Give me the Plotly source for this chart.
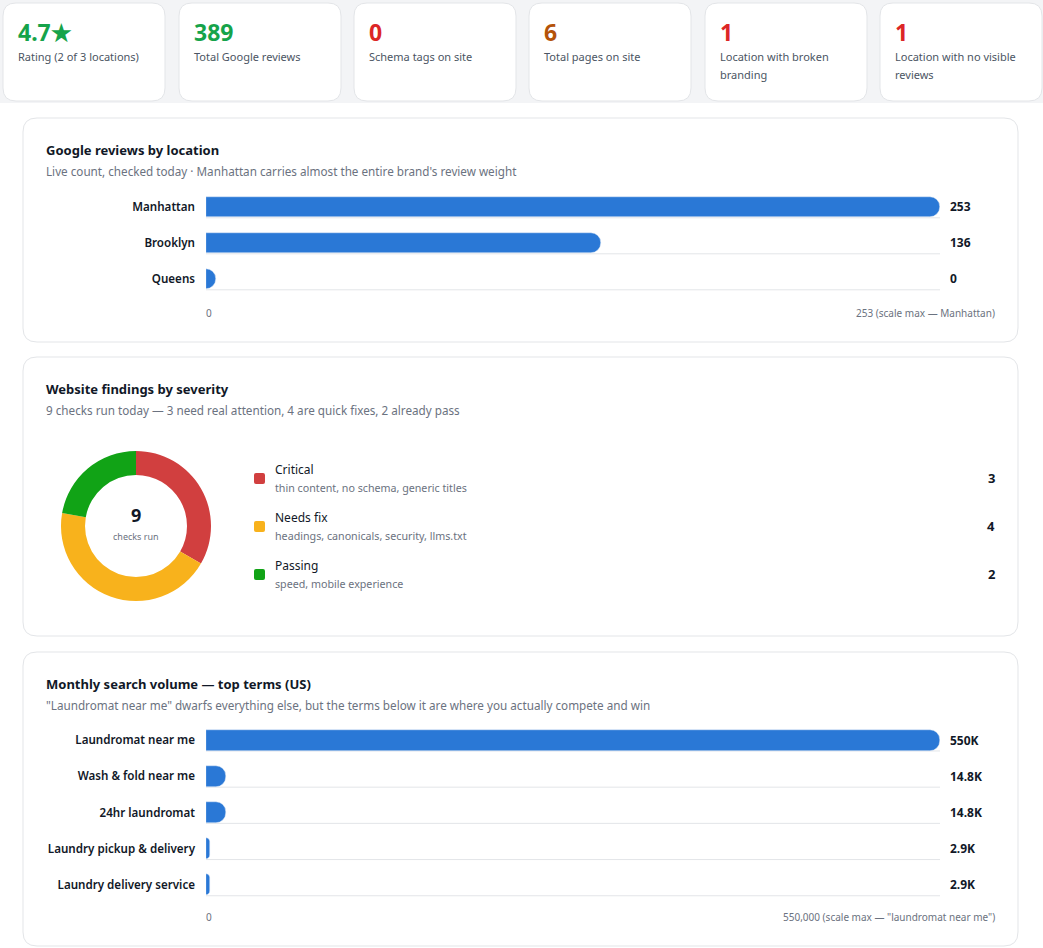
import plotly.graph_objects as go

W, H = 1043, 948
FONT = "Segoe UI, Noto Sans, sans-serif"
INK = "#111827"
MUTED = "#6b7280"
BLUE = "#2a78d6"
EDGE = "#e3e5e8"

# KPI strip
kpi_values = ["4.7★", "389", "0", "6", "1", "1"]
kpi_labels = ["Rating (2 of 3 locations)", "Total Google reviews", "Schema tags on site",
              "Total pages on site", "Location with broken<br>branding",
              "Location with no visible<br>reviews"]
kpi_colors = ["#16a34a", "#16a34a", "#dc2626", "#b45309", "#dc2626", "#dc2626"]

# reviews by location
locations = ["Manhattan", "Brooklyn", "Queens"]
reviews = [253, 136, 0]

# findings by severity
severity = ["Critical", "Needs fix", "Passing"]
severity_counts = [3, 4, 2]
severity_notes = ["thin content, no schema, generic titles",
                  "headings, canonicals, security, llms.txt",
                  "speed, mobile experience"]
severity_colors = ["#d13f3f", "#f8b21c", "#11a316"]

# search volume
terms = ["Laundromat near me", "Wash & fold near me", "24hr laundromat",
         "Laundry pickup & delivery", "Laundry delivery service"]
volumes = [550000, 14800, 14800, 2900, 2900]
volume_labels = ["550K", "14.8K", "14.8K", "2.9K", "2.9K"]


def px(x):
    return x / W


def py(y):
    return 1 - y / H


def rounded(x0, y0, x1, y1, r):
    # rounded rectangle path in paper coords, from pixel box
    p = lambda x, y: f"{px(x):.5f},{py(y):.5f}"
    return (f"M {p(x0 + r, y0)} L {p(x1 - r, y0)} Q {p(x1, y0)} {p(x1, y0 + r)} "
            f"L {p(x1, y1 - r)} Q {p(x1, y1)} {p(x1 - r, y1)} "
            f"L {p(x0 + r, y1)} Q {p(x0, y1)} {p(x0, y1 - r)} "
            f"L {p(x0, y0 + r)} Q {p(x0, y0)} {p(x0 + r, y0)} Z")


shapes = []
ann = []


def text(x, y, s, size=12, color=INK, bold=False, anchor="left"):
    # annotations carry ~2px of padding, nudge so the glyphs sit where the pixel says
    nudge = {"left": -2, "right": 2, "center": 0}[anchor]
    ann.append(dict(x=px(x + nudge), y=py(y), xref="paper", yref="paper", text=s, showarrow=False,
                    xanchor=anchor, yanchor="middle",
                    font=dict(size=size, color=color, family=FONT, weight=700 if bold else 400)))


# page background for the KPI band
shapes.append(dict(type="rect", xref="paper", yref="paper", x0=0, x1=1, y0=py(103), y1=1,
                   fillcolor="#f3f4f6", line_width=0, layer="below"))

card_x = [3, 179, 354, 529, 705, 880]
for i, cx in enumerate(card_x):
    shapes.append(dict(type="path", xref="paper", yref="paper", path=rounded(cx, 3, cx + 162, 101, 13),
                       fillcolor="white", line=dict(color=EDGE, width=1), layer="below"))
    text(cx + 15, 32, kpi_values[i], size=23, color=kpi_colors[i], bold=True)
    for j, line in enumerate(kpi_labels[i].split("<br>")):
        text(cx + 15, 57 + 18 * j, line, size=11, color="#4b5563")

# panels
panels = [(118, 342, "Google reviews by location",
           "Live count, checked today · Manhattan carries almost the entire brand's review weight"),
          (357, 636, "Website findings by severity",
           "9 checks run today — 3 need real attention, 4 are quick fixes, 2 already pass"),
          (652, 946, "Monthly search volume — top terms (US)",
           "\"Laundromat near me\" dwarfs everything else, but the terms below it are where you actually compete and win")]
for top, bottom, title, sub in panels:
    shapes.append(dict(type="path", xref="paper", yref="paper", path=rounded(23, top, 1018, bottom, 14),
                       fillcolor="white", line=dict(color=EDGE, width=1), layer="below"))
    text(46, top + 32, title, size=13, bold=True)
    text(46, top + 53, sub, size=11.7, color=MUTED)

fig = go.Figure()

# --- bars: reviews by location
scale1 = max(reviews)
shown = [v if v > 0 else scale1 * 0.014 for v in reviews]  # zero gets a small placeholder stub
fig.add_bar(x=shown, y=locations, orientation="h", marker=dict(color=BLUE, cornerradius=10),
            width=0.58, xaxis="x", yaxis="y", customdata=reviews,
            hovertemplate="%{y}: %{customdata}<extra></extra>")
for i, loc in enumerate(locations):
    shapes.append(dict(type="line", xref="x", yref="y", x0=0, x1=scale1, y0=i + 0.3, y1=i + 0.3,
                       line=dict(color=EDGE, width=1), layer="below"))
    ann.append(dict(x=1, xref="x domain", xshift=8, y=loc, yref="y", text=str(reviews[i]),
                    showarrow=False, xanchor="left",
                    font=dict(size=12, color=INK, family=FONT, weight=700)))
text(206, 313, "0", size=10, color=MUTED)
text(995, 313, f"{scale1} (scale max — Manhattan)", size=10, color=MUTED, anchor="right")

# --- donut: findings by severity
fig.add_pie(labels=severity, values=severity_counts, hole=0.68, sort=False, direction="clockwise",
            marker=dict(colors=severity_colors), textinfo="none", showlegend=False,
            domain=dict(x=[px(61), px(211)], y=[py(601), py(451)]))
text(136, 515, str(sum(severity_counts)), size=18, bold=True, anchor="center")
text(136, 536, "checks run", size=9, color=MUTED, anchor="center")
for i, name in enumerate(severity):
    yc = 478 + 48 * i
    shapes.append(dict(type="path", xref="paper", yref="paper", path=rounded(254, yc - 5, 265, yc + 6, 2),
                       fillcolor=severity_colors[i], line_width=0))
    text(275, yc - 9, name, size=12)
    text(275, yc + 10, severity_notes[i], size=10.7, color=MUTED)
    text(995, yc, str(severity_counts[i]), size=13, bold=True, anchor="right")

# --- bars: search volume
scale2 = max(volumes)
fig.add_bar(x=volumes, y=terms, orientation="h", marker=dict(color=BLUE, cornerradius=10),
            width=0.58, xaxis="x2", yaxis="y2", text=volume_labels,
            hovertemplate="%{y}: %{x:,}<extra></extra>", textposition="none")
for i, term in enumerate(terms):
    shapes.append(dict(type="line", xref="x2", yref="y2", x0=0, x1=scale2, y0=i + 0.3, y1=i + 0.3,
                       line=dict(color=EDGE, width=1), layer="below"))
    ann.append(dict(x=1, xref="x2 domain", xshift=8, y=term, yref="y2", text=volume_labels[i],
                    showarrow=False, xanchor="left",
                    font=dict(size=12, color=INK, family=FONT, weight=700)))
text(206, 917, "0", size=10, color=MUTED)
text(995, 917, f"{scale2:,} (scale max — \"laundromat near me\")", size=10, color=MUTED, anchor="right")

xa = dict(showgrid=False, zeroline=False, showticklabels=False, showline=False, fixedrange=True)
ya = dict(type="category", showgrid=False, zeroline=False, showline=False, ticks="",
          ticklabelstandoff=10, fixedrange=True,
          tickfont=dict(size=11.6, color=INK, family=FONT, weight=600))

fig.update_layout(
    width=W, height=H, margin=dict(l=0, r=0, t=0, b=0),
    paper_bgcolor="white", plot_bgcolor="rgba(0,0,0,0)",
    font=dict(family=FONT, color=INK),
    showlegend=False, bargap=0,
    xaxis=dict(xa, domain=[px(206), px(940)], range=[0, scale1], anchor="y"),
    yaxis=dict(ya, domain=[py(297), py(189)], range=[len(locations) - 0.5, -0.5], anchor="x"),
    xaxis2=dict(xa, domain=[px(206), px(940)], range=[0, scale2], anchor="y2"),
    yaxis2=dict(ya, domain=[py(903), py(722)], range=[len(terms) - 0.5, -0.5], anchor="x2"),
    shapes=shapes, annotations=ann,
)

fig.write_html("out.html", config={"displayModeBar": False},
               post_script="document.body.style.margin='0';")
